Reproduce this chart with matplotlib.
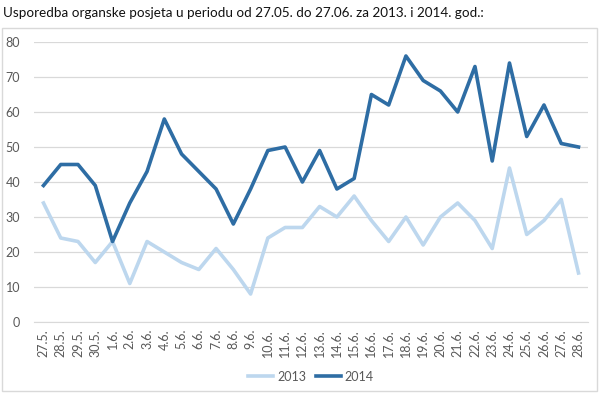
import matplotlib.pyplot as plt
from matplotlib.patches import Rectangle

plt.rcParams['font.family'] = ['Lato', 'DejaVu Sans']

days = ['27.5.', '28.5.', '29.5.', '30.5.', '1.6.', '2.6.', '3.6.', '4.6.', '5.6.',
        '6.6.', '7.6.', '8.6.', '9.6.', '10.6.', '11.6.', '12.6.', '13.6.', '14.6.',
        '15.6.', '16.6.', '17.6.', '18.6.', '19.6.', '20.6.', '21.6.', '22.6.',
        '23.6.', '24.6.', '25.6.', '26.6.', '27.6.', '28.6.']
visits_2013 = [34, 24, 23, 17, 23, 11, 23, 20, 17, 15, 21, 15, 8, 24, 27, 27,
               33, 30, 36, 29, 23, 30, 22, 30, 34, 29, 21, 44, 25, 29, 35, 14]
visits_2014 = [39, 45, 45, 39, 23, 34, 43, 58, 48, 43, 38, 28, 38, 49, 50, 40,
               49, 38, 41, 65, 62, 76, 69, 66, 60, 73, 46, 74, 53, 62, 51, 50]

fig = plt.figure(figsize=(6.02, 3.95), dpi=100)
# chart frame like the excel box
fig.patches.append(Rectangle((2 / 602, 4 / 395), 595 / 602, 363 / 395,
                             transform=fig.transFigure, fill=False,
                             edgecolor='#D9D9D9', linewidth=1))
fig.text(3 / 602, 1 - 13 / 395,
         'Usporedba organske posjeta u periodu od 27.05. do 27.06. za 2013. i 2014. god.:',
         fontsize=9.7, color='#111111', va='center', ha='left')

ax = fig.add_axes([34 / 602, 73 / 395, 554 / 602, 280 / 395])
x = range(len(days))
ax.plot(x, visits_2013, color='#BDD7EE', linewidth=2.6, label='2013')
ax.plot(x, visits_2014, color='#2E6DA4', linewidth=2.6, label='2014')

ax.set_ylim(0, 80)
ax.set_xlim(-0.55, len(days) - 0.45)
ax.set_yticks(range(0, 81, 10))
ax.set_xticks(list(x))
ax.set_xticklabels(days, rotation=90)
ax.grid(axis='y', color='#D9D9D9', linewidth=0.9)
ax.set_axisbelow(True)
for s in ['top', 'right', 'left']:
    ax.spines[s].set_visible(False)
ax.spines['bottom'].set_color('#D9D9D9')
ax.tick_params(axis='both', length=0, colors='#595959', labelsize=9)
ax.tick_params(axis='y', pad=10)
ax.tick_params(axis='x', pad=5)

ax.legend(loc='center', bbox_to_anchor=(0.5, -0.195), ncol=2, frameon=False,
          fontsize=9, labelcolor='#595959', handlelength=2.0, columnspacing=0.8,
          handletextpad=0.3)

fig.savefig('out.png', dpi=100)
